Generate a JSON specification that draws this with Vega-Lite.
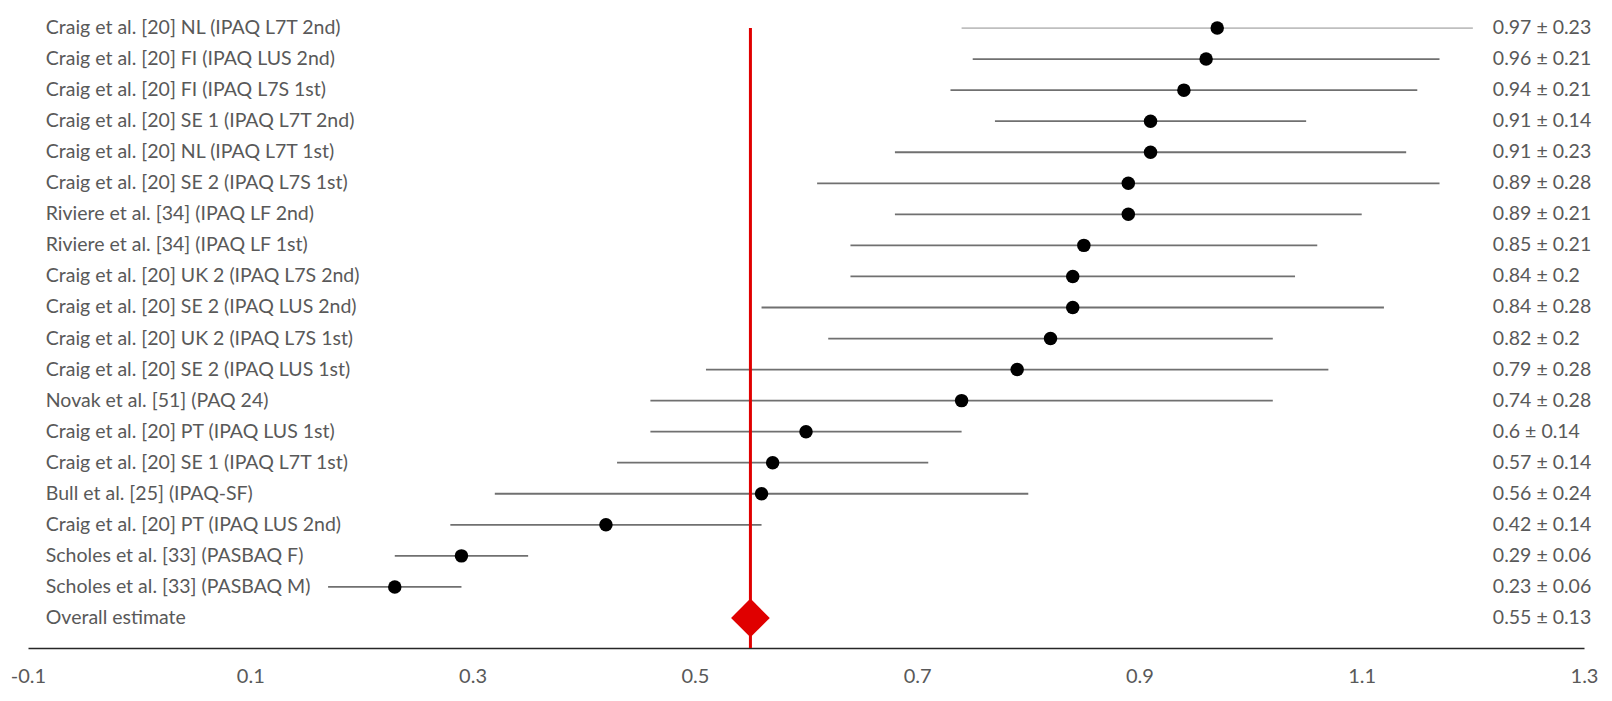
{
  "$schema": "https://vega.github.io/schema/vega-lite/v6.json",
  "width": 1556,
  "height": 648,
  "autosize": {"type": "none"},
  "padding": {"left": 28, "top": 0, "right": 28, "bottom": 53},
  "background": "white",
  "config": {"view": {"stroke": null}, "font": "Lato"},
  "data": {
    "values": [
      {"study": "Craig et al. [20] NL (IPAQ L7T 2nd)", "mean": 0.97, "lo": 0.74, "hi": 1.20, "label": "0.97 ± 0.23"},
      {"study": "Craig et al. [20] FI (IPAQ LUS 2nd)", "mean": 0.96, "lo": 0.75, "hi": 1.17, "label": "0.96 ± 0.21"},
      {"study": "Craig et al. [20] FI (IPAQ L7S 1st)", "mean": 0.94, "lo": 0.73, "hi": 1.15, "label": "0.94 ± 0.21"},
      {"study": "Craig et al. [20] SE 1 (IPAQ L7T 2nd)", "mean": 0.91, "lo": 0.77, "hi": 1.05, "label": "0.91 ± 0.14"},
      {"study": "Craig et al. [20] NL (IPAQ L7T 1st)", "mean": 0.91, "lo": 0.68, "hi": 1.14, "label": "0.91 ± 0.23"},
      {"study": "Craig et al. [20] SE 2 (IPAQ L7S 1st)", "mean": 0.89, "lo": 0.61, "hi": 1.17, "label": "0.89 ± 0.28"},
      {"study": "Riviere et al. [34] (IPAQ LF 2nd)", "mean": 0.89, "lo": 0.68, "hi": 1.10, "label": "0.89 ± 0.21"},
      {"study": "Riviere et al. [34] (IPAQ LF 1st)", "mean": 0.85, "lo": 0.64, "hi": 1.06, "label": "0.85 ± 0.21"},
      {"study": "Craig et al. [20] UK 2 (IPAQ L7S 2nd)", "mean": 0.84, "lo": 0.64, "hi": 1.04, "label": "0.84 ± 0.2"},
      {"study": "Craig et al. [20] SE 2 (IPAQ LUS 2nd)", "mean": 0.84, "lo": 0.56, "hi": 1.12, "label": "0.84 ± 0.28"},
      {"study": "Craig et al. [20] UK 2 (IPAQ L7S 1st)", "mean": 0.82, "lo": 0.62, "hi": 1.02, "label": "0.82 ± 0.2"},
      {"study": "Craig et al. [20] SE 2 (IPAQ LUS 1st)", "mean": 0.79, "lo": 0.51, "hi": 1.07, "label": "0.79 ± 0.28"},
      {"study": "Novak et al. [51] (PAQ 24)", "mean": 0.74, "lo": 0.46, "hi": 1.02, "label": "0.74 ± 0.28"},
      {"study": "Craig et al. [20] PT (IPAQ LUS 1st)", "mean": 0.60, "lo": 0.46, "hi": 0.74, "label": "0.6 ± 0.14"},
      {"study": "Craig et al. [20] SE 1 (IPAQ L7T 1st)", "mean": 0.57, "lo": 0.43, "hi": 0.71, "label": "0.57 ± 0.14"},
      {"study": "Bull et al. [25] (IPAQ-SF)", "mean": 0.56, "lo": 0.32, "hi": 0.80, "label": "0.56 ± 0.24"},
      {"study": "Craig et al. [20] PT (IPAQ LUS 2nd)", "mean": 0.42, "lo": 0.28, "hi": 0.56, "label": "0.42 ± 0.14"},
      {"study": "Scholes et al. [33] (PASBAQ F)", "mean": 0.29, "lo": 0.23, "hi": 0.35, "label": "0.29 ± 0.06"},
      {"study": "Scholes et al. [33] (PASBAQ M)", "mean": 0.23, "lo": 0.17, "hi": 0.29, "label": "0.23 ± 0.06"},
      {"study": "Overall estimate", "mean": 0.55, "lo": null, "hi": null, "label": "0.55 ± 0.13"}
    ]
  },
  "encoding": {
    "y": {
      "field": "study",
      "type": "nominal",
      "sort": null,
      "scale": {"paddingInner": 0, "paddingOuter": 0.435, "align": 0.463},
      "axis": null
    }
  },
  "layer": [
    {
      "transform": [{"filter": "datum.lo != null"}],
      "mark": {"type": "rule", "strokeWidth": 1.8},
      "encoding": {
        "x": {
          "field": "lo",
          "type": "quantitative",
          "scale": {"domain": [-0.1, 1.3], "nice": false, "zero": false},
          "axis": {
            "values": [-0.1, 0.1, 0.3, 0.5, 0.7, 0.9, 1.1, 1.3],
            "labelExpr": "(datum.value < 0 ? '-' : '') + format(abs(datum.value), '.1f')",
            "title": null,
            "grid": false,
            "ticks": false,
            "domainColor": "#262626",
            "domainWidth": 1.5,
            "labelColor": "#595959",
            "labelFontSize": 20,
            "labelPadding": 18,
            "labelFlush": false,
            "labelBound": false,
            "labelOverlap": false,
            "labelFont": "Lato"
          }
        },
        "x2": {"field": "hi"},
        "color": {
          "condition": {"test": "datum.study === 'Craig et al. [20] NL (IPAQ L7T 2nd)'", "value": "#bfbfbf"},
          "value": "#707070"
        }
      }
    },
    {
      "transform": [{"filter": "datum.study === 'Overall estimate'"}],
      "mark": {"type": "rule", "color": "#e00000", "strokeWidth": 3},
      "encoding": {
        "x": {"field": "mean", "type": "quantitative"},
        "y": {"datum": "Craig et al. [20] NL (IPAQ L7T 2nd)"},
        "y2": {"value": "height"}
      }
    },
    {
      "transform": [{"filter": "datum.study !== 'Overall estimate'"}],
      "mark": {"type": "point", "shape": "circle", "filled": true, "size": 182, "color": "#000000", "opacity": 1},
      "encoding": {
        "x": {"field": "mean", "type": "quantitative"}
      }
    },
    {
      "transform": [{"filter": "datum.study === 'Overall estimate'"}],
      "mark": {"type": "point", "shape": "diamond", "filled": true, "size": 1500, "color": "#e00000", "opacity": 1},
      "encoding": {
        "x": {"field": "mean", "type": "quantitative"}
      }
    },
    {
      "mark": {"type": "text", "align": "left", "baseline": "middle", "fontSize": 19.5, "color": "#595959", "font": "Lato"},
      "encoding": {
        "x": {"datum": -0.084},
        "text": {"field": "study"}
      }
    },
    {
      "mark": {"type": "text", "align": "left", "baseline": "middle", "fontSize": 19.5, "color": "#595959", "font": "Lato"},
      "encoding": {
        "x": {"datum": 1.218},
        "text": {"field": "label"}
      }
    }
  ]
}
